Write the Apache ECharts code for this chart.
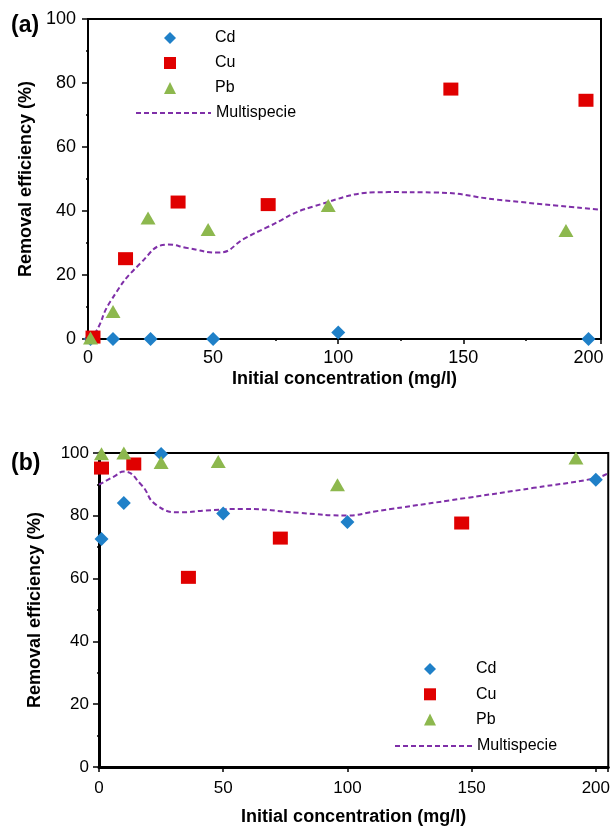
<!DOCTYPE html>
<html>
<head>
<meta charset="utf-8">
<script src="https://cdn.jsdelivr.net/npm/echarts@6/dist/echarts.min.js"></script>
<style>
  html, body { margin: 0; padding: 0; background: #fff; }
  #chart { width: 613px; height: 829px; }
</style>
</head>
<body>
<div id="chart"></div>
<script>
// panel (a) data
var cdA_x = [1, 10, 25, 50, 100, 200];
var cdA_y = [0, 0, 0, 0, 2, 0];
var cuA_x = [2, 15, 36, 72, 145, 199];
var cuA_y = [0.6, 25.1, 42.8, 42.0, 78.1, 74.6];
var pbA_x = [1, 10, 24, 48, 96, 191];
var pbA_y = [0.3, 8.6, 37.8, 34.2, 41.7, 33.9];
var multiA_x = [0, 3, 9, 21, 32, 40, 52, 63, 71, 90, 120, 138, 164, 205];
var multiA_y = [0, 2, 11.8, 23.7, 29.5, 28.4, 27, 31.6, 34.7, 41.4, 45.9, 45.8, 43.5, 40.4];

// panel (b) data
var cdB_x = [1, 10, 25, 50, 100, 200];
var cdB_y = [72.6, 84.1, 99.7, 80.7, 78.0, 91.5];
var cuB_x = [1, 14, 36, 73, 146];
var cuB_y = [95.2, 96.5, 60.4, 72.9, 77.7];
var pbB_x = [1, 10, 25, 48, 96, 192];
var pbB_y = [99.8, 100, 97.0, 97.3, 89.9, 98.4];
var multiB_x = [0, 6, 10, 17, 23, 33, 43, 58, 81, 100, 111, 148, 175, 200, 205];
var multiB_y = [89.9, 92.5, 94.1, 89.9, 83.5, 81.1, 81.7, 82.2, 80.9, 80.1, 81.4, 85.7, 88.9, 92, 93.6];

var xTicks = [0, 50, 100, 150, 200];
var yTicks = [0, 20, 40, 60, 80, 100];
var metals = ['Cd', 'Cu', 'Pb'];

var FONT = 'Liberation Sans, Arial, sans-serif';
var BLUE = '#1f80c8', RED = '#e00000', GREEN = '#8db84e', PURPLE = '#7f2fa8';

function pairs(xs, ys) {
  return xs.map(function (x, i) { return [x, ys[i]]; });
}

function xAxisOf(grid, lineW, labelSize, labelMargin, nameGap) {
  return {
    type: 'value', gridIndex: grid, min: 0, max: 205, interval: 50,
    name: 'Initial concentration (mg/l)', nameLocation: 'middle', nameGap: nameGap,
    nameTextStyle: { fontFamily: FONT, fontSize: 18, fontWeight: 'bold', color: '#000' },
    axisLine: { lineStyle: { color: '#000', width: lineW } },
    axisTick: { length: 5, lineStyle: { color: '#000', width: 1.5 } },
    minorTick: { show: true, splitNumber: 2, length: 2, lineStyle: { color: '#000', width: 1.5 } },
    axisLabel: {
      fontFamily: FONT, fontSize: labelSize, color: '#000', margin: labelMargin, showMaxLabel: false,
      formatter: function (v) { return xTicks.indexOf(v) >= 0 ? String(v) : ''; }
    },
    splitLine: { show: false }
  };
}

function yAxisOf(grid, lineW, labelSize, labelMargin, nameGap) {
  return {
    type: 'value', gridIndex: grid, min: 0, max: 100, interval: 20,
    name: 'Removal efficiency (%)', nameLocation: 'middle', nameGap: nameGap,
    nameTextStyle: { fontFamily: FONT, fontSize: 18, fontWeight: 'bold', color: '#000' },
    axisLine: { lineStyle: { color: '#000', width: lineW } },
    axisTick: { length: 6, lineStyle: { color: '#000', width: 1.5 } },
    minorTick: { show: true, splitNumber: 2, length: 2, lineStyle: { color: '#000', width: 1.5 } },
    axisLabel: {
      fontFamily: FONT, fontSize: labelSize, color: '#000', margin: labelMargin,
      formatter: function (v) { return yTicks.indexOf(v) >= 0 ? String(v) : ''; }
    },
    splitLine: { show: false }
  };
}

function scatter(name, idx, data, symbol, size, color) {
  return {
    name: name, type: 'scatter', xAxisIndex: idx, yAxisIndex: idx,
    data: data, symbol: symbol, symbolSize: size,
    itemStyle: { color: color, opacity: 1 }, z: 3
  };
}

function curve(idx, data) {
  return {
    name: 'Multispecie', type: 'line', xAxisIndex: idx, yAxisIndex: idx,
    data: data, smooth: 0.5, symbol: 'none', clip: true,
    lineStyle: { color: PURPLE, width: 2, type: [5, 3] },
    itemStyle: { color: PURPLE }, z: 2
  };
}

// scatter markers get their own legend so icons stay square; text pushed right by padding
function markerLegend(left, top, gap, pad) {
  return {
    data: metals, orient: 'vertical', left: left, top: top,
    itemWidth: 12, itemHeight: 12, itemGap: gap, selectedMode: false,
    textStyle: { fontFamily: FONT, fontSize: 16, color: '#000', padding: [0, 0, 0, pad] }
  };
}

function lineLegend(left, top, width) {
  return {
    data: [{ name: 'Multispecie', itemStyle: { opacity: 0 } }], orient: 'vertical', left: left, top: top,
    itemWidth: width, itemHeight: 12, selectedMode: false,
    textStyle: { fontFamily: FONT, fontSize: 16, color: '#000' }
  };
}

var chart = echarts.init(document.getElementById('chart'), null, { renderer: 'canvas' });

var option = {
  animation: false,
  backgroundColor: '#fff',
  title: [
    { text: '(a)', left: 6, top: 9, textStyle: { fontFamily: FONT, fontSize: 23, fontWeight: 'bold', color: '#000' } },
    { text: '(b)', left: 6, top: 447, textStyle: { fontFamily: FONT, fontSize: 23, fontWeight: 'bold', color: '#000' } }
  ],
  legend: [
    markerLegend(159, 25, 9, 34),
    lineLegend(130, 100, 75),
    markerLegend(419, 656, 9.3, 35),
    lineLegend(389, 733, 77)
  ],
  grid: [
    { left: 88, top: 19, width: 513, height: 320, show: true, borderColor: '#000', borderWidth: 2, backgroundColor: 'transparent' },
    { left: 99, top: 453, width: 510, height: 314, show: true, borderColor: '#000', borderWidth: 2, backgroundColor: 'transparent' }
  ],
  xAxis: [
    xAxisOf(0, 2, 18, 10, 31),
    xAxisOf(1, 3, 17, 13, 41)
  ],
  yAxis: [
    yAxisOf(0, 2, 18, 12, 52),
    yAxisOf(1, 3, 17, 10, 55)
  ],
  series: [
    curve(0, pairs(multiA_x, multiA_y)),
    scatter('Cd', 0, pairs(cdA_x, cdA_y), 'diamond', 14, BLUE),
    scatter('Cu', 0, pairs(cuA_x, cuA_y), 'rect', [15, 13], RED),
    scatter('Pb', 0, pairs(pbA_x, pbA_y), 'triangle', [15, 13], GREEN),
    curve(1, pairs(multiB_x, multiB_y)),
    scatter('Cd', 1, pairs(cdB_x, cdB_y), 'diamond', 14, BLUE),
    scatter('Cu', 1, pairs(cuB_x, cuB_y), 'rect', [15, 13], RED),
    scatter('Pb', 1, pairs(pbB_x, pbB_y), 'triangle', [15, 13], GREEN)
  ]
};

chart.setOption(option);
</script>
</body>
</html>
